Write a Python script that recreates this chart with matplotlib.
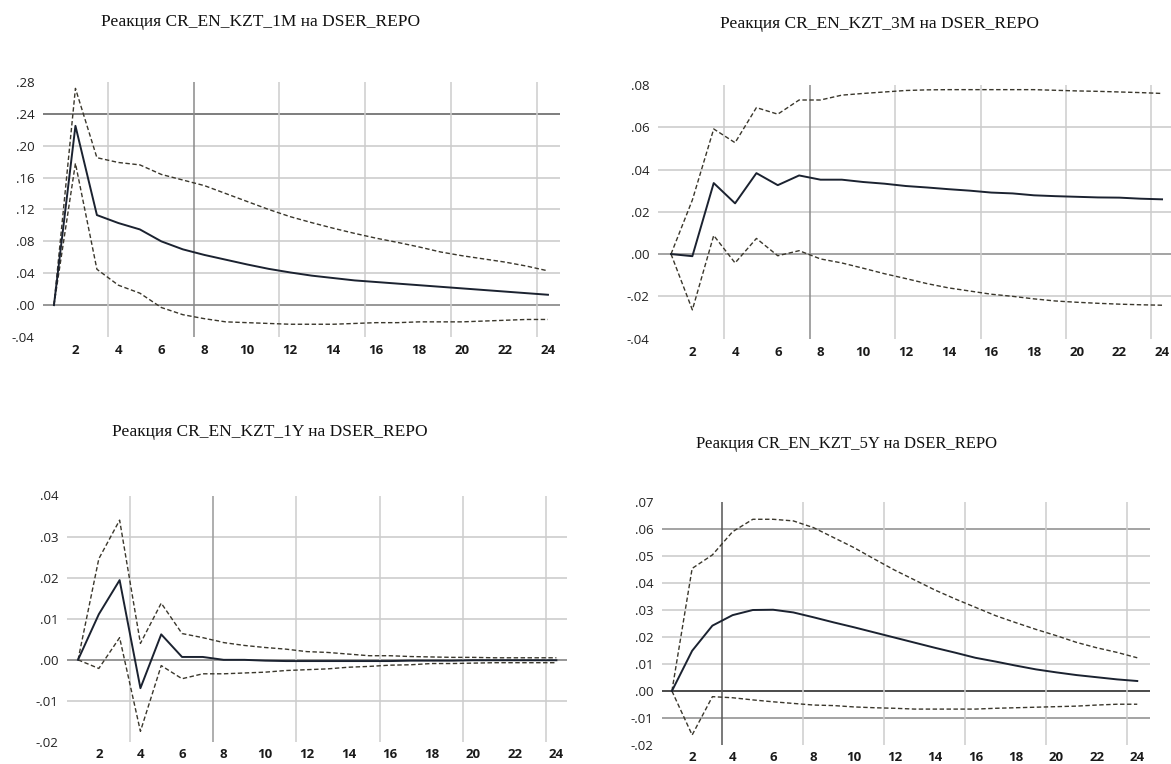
import matplotlib
matplotlib.use("Agg")
import matplotlib.pyplot as plt
from matplotlib.ticker import FuncFormatter

# ---------------- data ----------------
periods = list(range(1, 25))
x_tick_values = [2, 4, 6, 8, 10, 12, 14, 16, 18, 20, 22, 24]

titles = [
    "Реакция CR_EN_KZT_1M на DSER_REPO",
    "Реакция CR_EN_KZT_3M на DSER_REPO",
    "Реакция CR_EN_KZT_1Y на DSER_REPO",
    "Реакция CR_EN_KZT_5Y на DSER_REPO",
]

resp_1m = [0.0, 0.225, 0.113, 0.103, 0.095, 0.080, 0.070, 0.063, 0.057, 0.051,
           0.0455, 0.041, 0.037, 0.034, 0.031, 0.029, 0.027, 0.025, 0.023, 0.021,
           0.019, 0.017, 0.015, 0.013]
upper_1m = [0.0, 0.272, 0.185, 0.179, 0.176, 0.164, 0.157, 0.150, 0.140, 0.130,
            0.120, 0.111, 0.1035, 0.0965, 0.090, 0.084, 0.0787, 0.073, 0.0667, 0.062,
            0.058, 0.054, 0.049, 0.043]
lower_1m = [0.0, 0.178, 0.045, 0.025, 0.015, -0.003, -0.012, -0.017, -0.021, -0.022,
            -0.023, -0.024, -0.024, -0.024, -0.023, -0.022, -0.022, -0.021, -0.021, -0.021,
            -0.020, -0.019, -0.018, -0.018]

resp_3m = [0.0, -0.001, 0.0336, 0.024, 0.0383, 0.0326, 0.0372, 0.0352, 0.0352, 0.0341,
           0.0333, 0.0322, 0.0315, 0.0307, 0.030, 0.0291, 0.0287, 0.0278, 0.0274, 0.0271,
           0.0268, 0.0267, 0.0262, 0.0259]
upper_3m = [0.0, 0.0256, 0.0592, 0.0527, 0.0693, 0.0662, 0.0729, 0.0729, 0.0752, 0.076,
            0.0767, 0.0774, 0.0777, 0.0778, 0.0778, 0.0778, 0.0778, 0.0778, 0.0775, 0.0772,
            0.077, 0.0767, 0.0764, 0.076]
lower_3m = [0.0, -0.0264, 0.0088, -0.0042, 0.0074, -0.0008, 0.0016, -0.0023, -0.0042, -0.0067,
            -0.0093, -0.0116, -0.014, -0.016, -0.0175, -0.019, -0.020, -0.0212, -0.0222, -0.0228,
            -0.0233, -0.0237, -0.0240, -0.0242]

resp_1y = [0.0, 0.0111, 0.0194, -0.0069, 0.0062, 0.0007, 0.0007, 0.0, 0.0, -0.0002,
           -0.0003, -0.0003, -0.0003, -0.0003, -0.0003, -0.0003, -0.0002, -0.0002, -0.0002, -0.0001,
           -0.0001, -0.0001, -0.0001, -0.0001]
upper_1y = [0.0, 0.0246, 0.034, 0.004, 0.0138, 0.0064, 0.0054, 0.0042, 0.0035, 0.003,
            0.0026, 0.002, 0.0018, 0.0014, 0.001, 0.001, 0.0008, 0.0007, 0.0006, 0.0006,
            0.0005, 0.0005, 0.0005, 0.0005]
lower_1y = [0.0, -0.0021, 0.0054, -0.0174, -0.0014, -0.0046, -0.0034, -0.0034, -0.0032, -0.003,
            -0.0026, -0.0024, -0.0022, -0.0018, -0.0016, -0.0013, -0.0012, -0.0009, -0.0009, -0.0008,
            -0.0007, -0.0007, -0.0007, -0.0007]

resp_5y = [0.0, 0.0149, 0.0242, 0.0281, 0.030, 0.0301, 0.0291, 0.0273, 0.0254, 0.0236,
           0.0217, 0.0198, 0.0179, 0.016, 0.0142, 0.0123, 0.0109, 0.0094, 0.008, 0.0069,
           0.0059, 0.0051, 0.0043, 0.0037]
upper_5y = [0.0, 0.0454, 0.0504, 0.059, 0.0636, 0.0636, 0.063, 0.0605, 0.0568, 0.0531,
            0.0489, 0.0448, 0.0411, 0.0374, 0.0341, 0.031, 0.0279, 0.0253, 0.0228, 0.0205,
            0.018, 0.016, 0.0143, 0.0123]
lower_5y = [0.0, -0.0163, -0.0021, -0.0025, -0.0033, -0.004, -0.0046, -0.0052, -0.0054, -0.0059,
            -0.0062, -0.0064, -0.0067, -0.0067, -0.0067, -0.0067, -0.0064, -0.0062, -0.006, -0.0058,
            -0.0056, -0.0052, -0.0049, -0.0049]

yticks_1m = [-0.04, 0.00, 0.04, 0.08, 0.12, 0.16, 0.20, 0.24, 0.28]
yticks_3m = [-0.04, -0.02, 0.00, 0.02, 0.04, 0.06, 0.08]
yticks_1y = [-0.02, -0.01, 0.00, 0.01, 0.02, 0.03, 0.04]
yticks_5y = [-0.02, -0.01, 0.00, 0.01, 0.02, 0.03, 0.04, 0.05, 0.06, 0.07]

# ---------------- layout / style ----------------
W, H = 1171, 764
panels = [
    dict(rect=(43, 82, 560, 337), xlim=(0.49, 24.56), yt=yticks_1m,
         r=resp_1m, u=upper_1m, l=lower_1m, title=titles[0], tpos=(261, 22),
         hdark={0.24: "#5a5a5a", 0.0: "#7a7a7a"}, vdark={7.5: "#8a8a8a"}),
    dict(rect=(658, 85, 1171, 338.6), xlim=(0.39, 24.42), yt=yticks_3m,
         r=resp_3m, u=upper_3m, l=lower_3m, title=titles[1], tpos=(879, 24),
         hdark={0.0: "#8a8a8a"}, vdark={7.5: "#8a8a8a"}),
    dict(rect=(67, 495.5, 567, 742), xlim=(0.47, 24.51), yt=yticks_1y,
         r=resp_1y, u=upper_1y, l=lower_1y, title=titles[2], tpos=(270, 432),
         hdark={0.0: "#7a7a7a"}, vdark={7.5: "#999999"}),
    dict(rect=(662, 502, 1150, 745), xlim=(0.51, 24.63), yt=yticks_5y,
         r=resp_5y, u=upper_5y, l=lower_5y, title=titles[3], tpos=(846, 444),
         hdark={0.0: "#1a1a1a", 0.06: "#8a8a8a", -0.01: "#8a8a8a"}, vdark={3.5: "#555555"}),
]

vgrid = [3.5, 7.5, 11.5, 15.5, 19.5, 23.5]


def fmt(v, pos):
    s = f"{v:.2f}"
    s = s.replace("0.", ".", 1)
    if s == "-.00":
        s = ".00"
    return s


fig = plt.figure(figsize=(W / 100, H / 100), dpi=100)
fig.patch.set_facecolor("white")

for i, p in enumerate(panels):
    x0, y0, x1, y1 = p["rect"]
    ax = fig.add_axes([x0 / W, (H - y1) / H, (x1 - x0) / W, (y1 - y0) / H])
    ax.set_xlim(*p["xlim"])
    ax.set_ylim(p["yt"][0], p["yt"][-1])
    for s in ax.spines.values():
        s.set_visible(False)

    for yv in p["yt"][1:-1]:
        c = p["hdark"].get(round(yv, 2), "#c9c9c9")
        ax.axhline(yv, color=c, lw=1.1, zorder=1)
    for xv in vgrid:
        c = p["vdark"].get(xv, "#cdcdcd")
        ax.axvline(xv, color=c, lw=1.1, zorder=1)

    ax.plot(periods, p["u"], color="#3a372c", lw=1.0, ls=(0, (3.2, 1.8)), zorder=3)
    ax.plot(periods, p["l"], color="#3a372c", lw=1.0, ls=(0, (3.2, 1.8)), zorder=3)
    ax.plot(periods, p["r"], color="#1b2230", lw=1.4, zorder=4)

    ax.set_yticks(p["yt"])
    ax.yaxis.set_major_formatter(FuncFormatter(fmt))
    ax.set_xticks(x_tick_values)
    ax.set_xticklabels([str(v) for v in x_tick_values])
    ax.tick_params(axis="both", length=0)
    ax.tick_params(axis="y", pad=6)
    ax.tick_params(axis="x", pad=4 if i >= 2 else 5)
    for lab in ax.get_yticklabels():
        lab.set_fontfamily("Open Sans")
        lab.set_fontsize(9.5)
        lab.set_color("#222222")
    for lab in ax.get_xticklabels():
        lab.set_fontfamily("Open Sans")
        lab.set_fontsize(9.5)
        lab.set_fontweight("bold")
        lab.set_color("#1a1a1a")

    tx, ty = p["tpos"]
    fig.text(tx / W, 1 - ty / H, p["title"], ha="center", va="center",
             family="Liberation Serif", fontsize=12.5 if i < 3 else 12, color="#111111")

fig.savefig("out.png", dpi=100, facecolor="white")
